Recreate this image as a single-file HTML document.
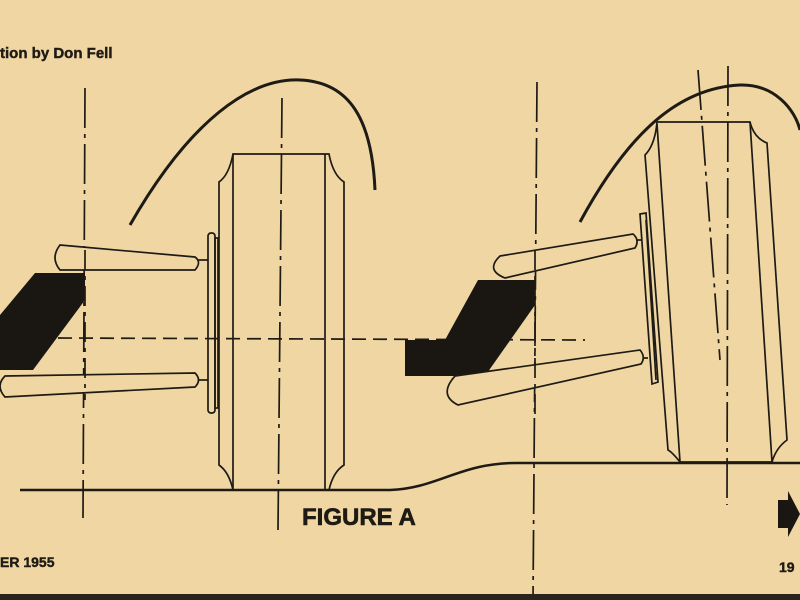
<!DOCTYPE html>
<html><head><style>
html,body{margin:0;padding:0;width:800px;height:600px;overflow:hidden;background:#efd6a3;}
svg{position:absolute;left:0;top:0}
.t{font-family:"Liberation Sans",sans-serif;font-weight:bold;fill:#1e1a14}
</style></head><body>
<svg width="800" height="600" viewBox="0 0 800 600">
<rect width="800" height="600" fill="#efd6a3"/>
<g stroke="#1e1a14" fill="none" stroke-width="1.7">
<line x1="85" y1="88" x2="83" y2="518" stroke-dasharray="40,6,4,6"/>
<line x1="282" y1="98" x2="278" y2="530" stroke-dasharray="40,6,4,6"/>
<line x1="537" y1="82" x2="533" y2="600" stroke-dasharray="40,6,4,6"/>
<line x1="728" y1="66" x2="727" y2="505" stroke-dasharray="40,6,4,6"/>
<line x1="698" y1="70" x2="720" y2="360" stroke-dasharray="40,6,4,6"/>
<line x1="58" y1="338" x2="585" y2="340" stroke-dasharray="14,7"/>
<path d="M130,225 C190,120 250,78 300,80 C350,82 372,120 375,190" stroke-width="3"/>
<path d="M580,222 C630,130 680,88 740,85 C775,84 795,110 800,130" stroke-width="3"/>
<path d="M20,490 L390,490 C440,488 460,462 520,463 L800,463" stroke-width="2.5"/>
<!-- left wheel -->
<path d="M233,154 L329,154 Q333,175 344,182 L344,465 Q333,472 329,490 L233,490 Q229,472 219,465 L219,182 Q229,175 233,154 Z"/>
<line x1="233" y1="154" x2="233" y2="490"/>
<line x1="325" y1="154" x2="325" y2="490"/>
<rect x="208" y="233" width="7" height="180" rx="3"/>
<rect x="215" y="238" width="3" height="170"/>
<line x1="195" y1="260" x2="208" y2="260"/>
<line x1="195" y1="380" x2="208" y2="380"/>
<!-- right wheel -->
<path d="M657,122 L750,122 Q754,138 767,143 L787,440 Q776,448 772,462 L680,462 Q672,452 668,450 L645,155 Q655,145 657,122 Z"/>
<line x1="657" y1="124" x2="680" y2="462"/>
<line x1="750" y1="122" x2="772" y2="462"/>
<path d="M640,214 L646,213 L658,382 L652,384 Z"/>
<line x1="646" y1="220" x2="656" y2="380"/>
<line x1="636" y1="240" x2="642" y2="240"/>
<line x1="641" y1="358" x2="648" y2="358"/>
</g>
<polygon points="35,273 85,273 85,300 33,370 0,370 0,315" fill="#1a1612"/>
<polygon points="478,280 535,280 535,305 485,376 405,376 405,340 445,340" fill="#1a1612"/>
<g stroke="#1e1a14" stroke-width="1.7" fill="#efd6a3">
<path d="M60,245 L195,257 Q202,262 195,270 L60,270 Q50,258 60,245 Z"/>
<path d="M5,376 L195,373 Q202,380 195,387 L5,397 Q-5,386 5,376 Z"/>
<path d="M500,256 L633,234 Q640,240 635,248 L505,278 Q485,270 500,256 Z"/>
<path d="M455,376 L640,350 Q646,357 641,364 L458,405 Q438,395 455,376 Z"/>
</g>
<line x1="85" y1="250" x2="85" y2="400" stroke="#1e1a14" stroke-width="1.7" stroke-dasharray="20,6,4,6"/>
<line x1="535" y1="250" x2="535" y2="420" stroke="#1e1a14" stroke-width="1.7" stroke-dasharray="20,6,4,6"/>
<text class="t" x="0" y="58" font-size="15" stroke="#1e1a14" stroke-width="0.4">tion by Don Fell</text>
<text class="t" x="302" y="525" font-size="24" stroke="#1e1a14" stroke-width="0.6">FIGURE A</text>
<text class="t" x="0" y="567" font-size="14" stroke="#1e1a14" stroke-width="0.4">ER 1955</text>
<text class="t" x="779" y="572" font-size="14" stroke="#1e1a14" stroke-width="0.4">19</text>
<polygon points="778,500 788,500 788,491 800,514 788,537 788,528 778,528" fill="#1a1612"/>
<rect x="0" y="594" width="800" height="6" fill="#2a241c"/>
</svg>
</body></html>
